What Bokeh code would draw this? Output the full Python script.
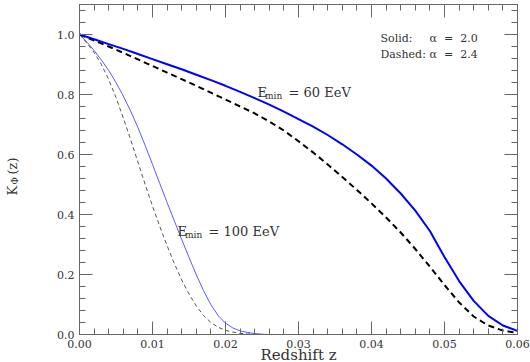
import math
from bokeh.plotting import figure
from bokeh.layouts import row
from bokeh.models import Range1d, LinearAxis, FixedTicker, Label, CustomLabelingPolicy
from bokeh.embed import file_html
from bokeh.resources import INLINE

# ---- data ----
z_60 = [0.000, 0.002, 0.004, 0.006, 0.008, 0.010, 0.012, 0.014, 0.016, 0.018,
        0.020, 0.022, 0.024, 0.026, 0.028, 0.030, 0.032, 0.034, 0.036, 0.038,
        0.040, 0.042, 0.044, 0.046, 0.048, 0.050, 0.052, 0.054, 0.056, 0.058, 0.060]
k_60_a20 = [1.000, 0.984, 0.968, 0.952, 0.935, 0.918, 0.901, 0.884, 0.866, 0.848,
            0.829, 0.809, 0.788, 0.766, 0.743, 0.718, 0.693, 0.665, 0.634, 0.600,
            0.563, 0.520, 0.470, 0.413, 0.345, 0.258, 0.178, 0.112, 0.062, 0.030, 0.012]
k_60_a24 = [1.000, 0.980, 0.960, 0.939, 0.917, 0.895, 0.873, 0.851, 0.829, 0.806,
            0.783, 0.760, 0.737, 0.710, 0.680, 0.644, 0.607, 0.567, 0.525, 0.482,
            0.437, 0.390, 0.340, 0.285, 0.226, 0.165, 0.107, 0.060, 0.030, 0.013, 0.005]

z_100_a20 = [0.000, 0.001, 0.002, 0.003, 0.004, 0.005, 0.006, 0.007, 0.008, 0.009,
             0.010, 0.011, 0.012, 0.013, 0.014, 0.015, 0.016, 0.017, 0.018, 0.019,
             0.020, 0.021, 0.022, 0.023, 0.024, 0.025, 0.026]
k_100_a20 = [1.000, 0.975, 0.947, 0.915, 0.880, 0.840, 0.795, 0.745, 0.690, 0.630,
             0.567, 0.503, 0.440, 0.378, 0.317, 0.257, 0.199, 0.146, 0.099, 0.063,
             0.038, 0.022, 0.012, 0.007, 0.003, 0.001, 0.000]
z_100_a24 = [0.000, 0.001, 0.002, 0.003, 0.004, 0.005, 0.006, 0.007, 0.008, 0.009,
             0.010, 0.011, 0.012, 0.013, 0.014, 0.015, 0.016, 0.017, 0.018, 0.019,
             0.020, 0.021, 0.022, 0.023, 0.024, 0.025]
k_100_a24 = [1.000, 0.972, 0.940, 0.900, 0.850, 0.790, 0.722, 0.650, 0.575, 0.500,
             0.428, 0.360, 0.296, 0.236, 0.182, 0.135, 0.095, 0.063, 0.040, 0.024,
             0.014, 0.008, 0.004, 0.002, 0.001, 0.000]

x_major = [0.00, 0.01, 0.02, 0.03, 0.04, 0.05, 0.06]
x_labels = ["0.00", "0.01", "0.02", "0.03", "0.04", "0.05", "0.06"]
x_minor = [i * 0.002 for i in range(31)]
y_major = [0.0, 0.2, 0.4, 0.6, 0.8, 1.0]
y_labels = ["0.0", "0.2", "0.4", "0.6", "0.8", "1.0"]
y_minor = [i * 0.04 for i in range(28)]

FONT = "DejaVu Serif"
AX = "#666666"
TXT = "#333333"
LEFT_W = 30
NB = "\u00a0"

p = figure(frame_width=438, frame_height=330,
           x_range=Range1d(0.0, 0.06), y_range=Range1d(0.0, 1.1),
           output_backend="svg", toolbar_location=None,
           min_border_left=79 - LEFT_W, min_border_right=13, min_border_top=2,
           min_border_bottom=29)
p.grid.visible = False
p.outline_line_color = AX
p.outline_line_width = 1
p.background_fill_color = "white"
p.border_fill_color = "white"


def style(ax, ticks, minor, labels):
    ax.ticker = FixedTicker(ticks=ticks, minor_ticks=minor)
    ax.major_tick_in = 13
    ax.major_tick_out = 0
    ax.minor_tick_in = 6
    ax.minor_tick_out = 0
    ax.major_tick_line_color = AX
    ax.minor_tick_line_color = AX
    ax.axis_line_color = AX
    ax.major_label_text_font = FONT
    ax.major_label_text_color = TXT
    ax.major_label_text_font_size = "11px"
    if labels is None:
        ax.major_label_text_font_size = "1px"
        ax.major_label_standoff = 0
        ax.major_label_policy = CustomLabelingPolicy(
            code="for (const i of indices) { indices.unset(i) }\nreturn indices")
    else:
        ax.major_label_overrides = {t: s for t, s in zip(ticks, labels)}


xa = p.xaxis[0]
style(xa, x_major, x_minor, x_labels)
xa.major_label_standoff = 5
xa.axis_label = "Redshift z"
xa.axis_label_text_font = FONT
xa.axis_label_text_font_style = "normal"
xa.axis_label_text_font_size = "15px"
xa.axis_label_text_color = TXT
xa.axis_label_standoff = -5

ya = p.yaxis[0]
style(ya, y_major, y_minor, y_labels)
ya.major_label_standoff = 5

top = LinearAxis()
style(top, x_major, x_minor, None)
p.add_layout(top, "above")
right = LinearAxis()
style(right, y_major, y_minor, None)
p.add_layout(right, "right")

# ---- curves ----
p.line(z_100_a24, k_100_a24, line_color="#555555", line_width=1, line_dash="4 3")
p.line(z_100_a20, k_100_a20, line_color="#5a5aff", line_width=1)
p.line(z_60, k_60_a24, line_color="black", line_width=2, line_dash="6 4")
p.line(z_60, k_60_a20, line_color="#0000ff", line_width=2)


def lab(fig, x, y, t, size, **kw):
    fig.add_layout(Label(x=x, y=y, text=t, text_font=FONT, text_font_size=size,
                         text_color=TXT, text_baseline="alphabetic", **kw))


# E_min labels
lab(p, 0.02438, 0.808, "E", "13px")
lab(p, 0.02541, 0.795, "min", "9px")
lab(p, 0.02863, 0.808, "=  60  EeV", "13px")
lab(p, 0.01342, 0.345, "E", "13px")
lab(p, 0.01445, 0.333, "min", "9px")
lab(p, 0.01767, 0.345, "=  100  EeV", "13px")

# legend text
lab(p, 0.04123, 0.987, "Solid:", "11px")
lab(p, 0.04123, 0.933, "Dashed:", "11px")
lab(p, 0.04795, 0.987, "α" + NB * 2 + "=" + NB * 2 + "2.0", "11px")
lab(p, 0.04795, 0.933, "α" + NB * 2 + "=" + NB * 2 + "2.4", "11px")

# narrow strip on the left holding the rotated y-axis label K_Phi(z)
q = figure(frame_width=LEFT_W, frame_height=362, x_axis_location=None,
           y_axis_location=None, output_backend="svg", toolbar_location=None,
           min_border=0, x_range=Range1d(0, 1), y_range=Range1d(0, 1))
q.grid.visible = False
q.outline_line_color = None
q.border_fill_color = "white"
q.background_fill_color = "white"
lab(q, 12, 171, "K", "13px", x_units="screen", y_units="screen", angle=math.pi / 2)
lab(q, 14.5, 182, "Φ", "9px", x_units="screen", y_units="screen", angle=math.pi / 2)
lab(q, 12, 192, "(z)", "13px", x_units="screen", y_units="screen", angle=math.pi / 2)

layout = row(q, p)
open("out.html", "w").write(file_html(layout, INLINE))
